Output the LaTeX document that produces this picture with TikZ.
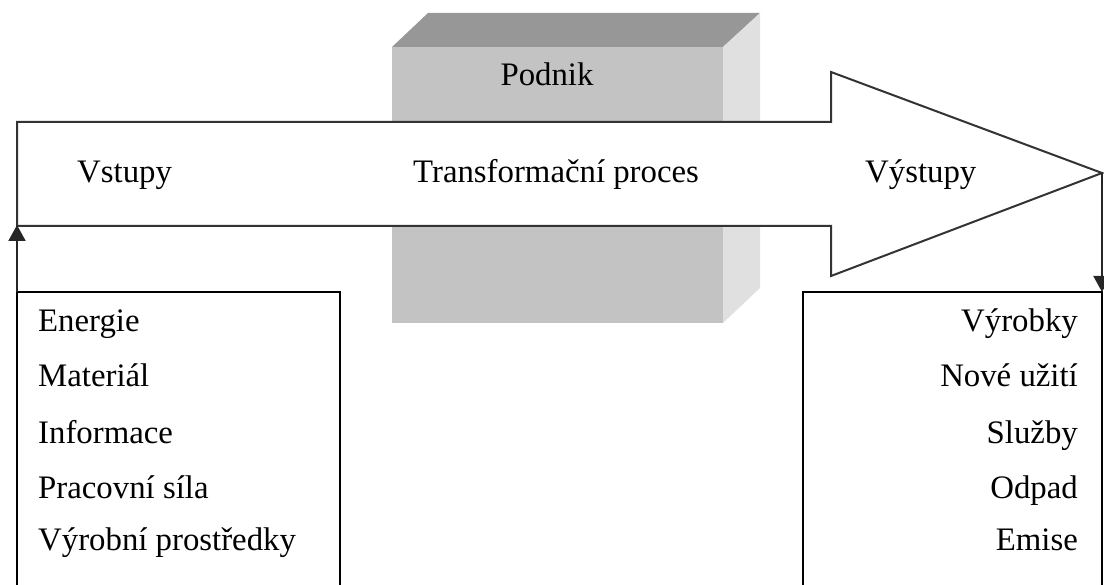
\documentclass[tikz,border=0pt]{standalone}
\usepackage{fontspec}
\setmainfont{Liberation Serif}
\usetikzlibrary{arrows.meta}
\definecolor{frontgray}{HTML}{C3C3C3}
\definecolor{topgray}{HTML}{979797}
\definecolor{sidegray}{HTML}{E0E0E0}
\begin{document}
\begin{tikzpicture}[x=1pt,y=-1pt,
  txt/.style={font=\fontsize{32.8}{40}\selectfont, inner sep=0pt, text=black},
  listbox/.style={draw=black, line width=1.5pt, rectangle, inner sep=0pt,
    outer sep=0pt, anchor=north west, minimum height=330pt},
  flowarrow/.style={draw=black!80, line width=2pt, fill=white, line join=miter},
  link/.style={draw=black!85, line width=2pt,
    -{Triangle[length=16pt,width=17pt]}}
]
\useasboundingbox (0,0) rectangle (1104,585);
\clip (0,0) rectangle (1104,585);

% the enterprise as a grey block
\fill[topgray] (392,47) -- (428,13) -- (760,13) -- (723,47) -- cycle;
\fill[sidegray] (723,47) -- (760,13) -- (760,288) -- (723,323) -- cycle;
\fill[frontgray] (392,47) rectangle (723,323);
\node[txt, anchor=base] (podnik) at (547,86) {Podnik};

% the transformation arrow running through it
\draw[flowarrow] (17,122) -- (831,122) -- (831,72) -- (1102,173)
  -- (831,276) -- (831,226) -- (17,226) -- cycle;
\coordinate (inTarget) at (17,225);
\coordinate (tip) at (1102,173);
\node[txt, anchor=base west] (vstupy) at (77,183) {Vstupy};
\node[txt, anchor=base west] (proces) at (413,183) {Transformační proces};
\node[txt, anchor=base west] (vystupy) at (865,183) {Výstupy};

% inputs
\node[listbox, minimum width=323pt] (inbox) at (17,292) {};
\node[txt, anchor=base west] (in1) at (38,332) {Energie};
\node[txt, anchor=base west] (in2) at (38,387) {Materiál};
\node[txt, anchor=base west] (in3) at (38,443) {Informace};
\node[txt, anchor=base west] (in4) at (38,498) {Pracovní síla};
\node[txt, anchor=base west] (in5) at (38,550) {Výrobní prostředky};

% outputs
\node[listbox, minimum width=299pt] (outbox) at (803,292) {};
\node[txt, anchor=base east] (out1) at (1078,332) {Výrobky};
\node[txt, anchor=base east] (out2) at (1078,387) {Nové užití};
\node[txt, anchor=base east] (out3) at (1078,443) {Služby};
\node[txt, anchor=base east] (out4) at (1078,498) {Odpad};
\node[txt, anchor=base east] (out5) at (1078,550) {Emise};

% connectors
\draw[link] (inbox.north west) -- (inTarget);
\draw[link] (tip) -- (outbox.north east);
\end{tikzpicture}
\end{document}
